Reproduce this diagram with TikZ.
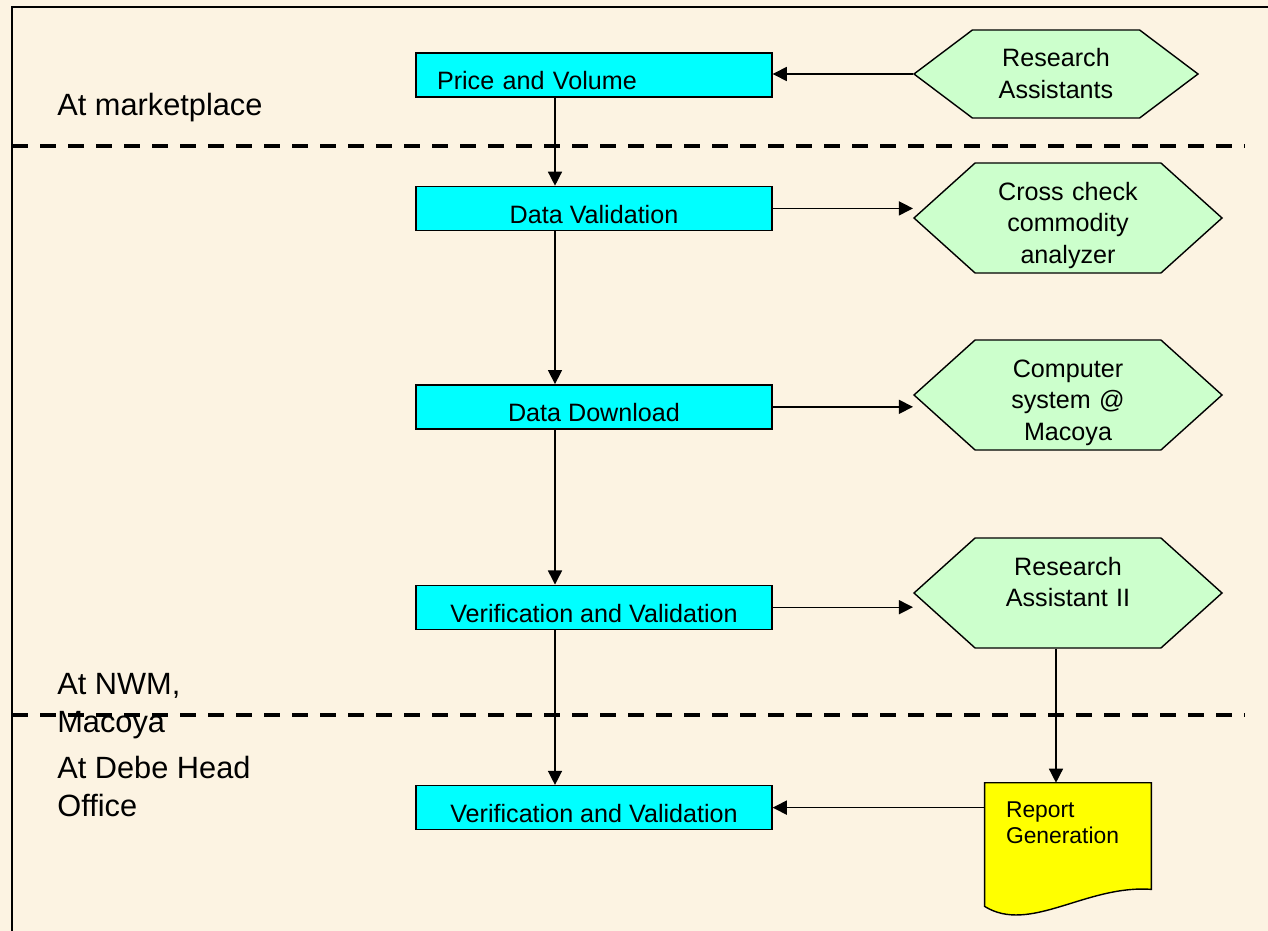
\documentclass[tikz,border=0pt]{standalone}
\usepackage{fontspec}
\setmainfont{Liberation Sans}
\usepackage{xcolor}
\usetikzlibrary{arrows.meta,positioning,shapes.symbols,backgrounds}

\definecolor{paper}{RGB}{252,243,226}
\definecolor{boxcyan}{RGB}{0,255,255}
\definecolor{hexgreen}{RGB}{204,255,204}
\definecolor{docyellow}{RGB}{255,255,0}

\begin{document}
\begin{tikzpicture}[
    procbox/.style={draw, line width=0.8pt, fill=boxcyan, minimum width=7.12cm,
        minimum height=0.88cm, inner ysep=2pt, text height=17pt, text depth=0pt,
        font=\fontsize{14.3}{17}\selectfont},
    hexbox/.style={shape=signal, signal to=east and west, draw, line width=0.8pt,
        fill=hexgreen, text width=3.5cm, align=center, minimum width=6.16cm,
        minimum height=2.2cm, signal pointer angle=84, inner sep=1pt,
        text height=10.5pt, text depth=30.9pt, font=\fontsize{14.3}{18.1}\selectfont},
    docbox/.style={minimum width=3.32cm, minimum height=2.12cm, inner xsep=0.42cm,
        text width=2.48cm, align=left, text height=9.5pt, text depth=31.1pt,
        font=\fontsize{13}{15.3}\selectfont},
    zone/.style={anchor=base west, align=left, inner sep=0pt,
        font=\fontsize{17.5}{21.5}\selectfont},
    flow/.style={-{Triangle[length=8pt,width=8pt]}, line width=0.8pt},
    split/.style={line width=2.2pt, dash pattern=on 0.32cm off 0.24cm},
]
    \useasboundingbox (0,0) rectangle (25.36,-18.62);

    \node[procbox, text width=6.28cm, align=left, inner xsep=0.42cm] (price) at (11.88,-1.50)
        {Price and Volume};
    \node[procbox, below=1.76cm of price] (dataval) {Data Validation};
    \node[procbox, below=3.06cm of dataval] (download) {Data Download};
    \node[procbox, below=3.10cm of download] (verifA) {Verification and Validation};
    \node[procbox, below=3.10cm of verifA] (verifB) {Verification and Validation};

    \node[hexbox, minimum width=5.68cm, minimum height=1.76cm, signal pointer angle=74,
        text width=3.2cm, text depth=18.5pt] (assist) at (21.12,-1.48) {Research\\Assistants};
    \node[hexbox] (crosscheck) at (21.36,-4.36) {Cross check\\commodity\\analyzer};
    \node[hexbox] (computer) at (21.36,-7.90) {Computer\\system @\\Macoya};
    \node[hexbox] (assistII) at (21.36,-11.86) {Research\\Assistant II};
    \node[docbox, below=2.68cm of assistII] (report) {Report\\Generation};

    \node[zone] (market) at (1.14,-2.32) {At marketplace};
    \node[zone] (nwm) at (1.14,-14.64) {At NWM,\\Macoya};
    \node[zone] (debe) at (1.14,-16.32) {At Debe Head\\Office};

    \begin{scope}[on background layer]
        \fill[paper] (0,0) rectangle (25.36,-18.62);
        \draw[line width=0.8pt, fill=docyellow] (report.north west) -- (report.north east)
            -- (report.south east)
            .. controls ([xshift=-1.3cm,yshift=0.1cm]report.south east)
            and ([xshift=0.9cm,yshift=-0.9cm]report.south west)
            .. ([yshift=-0.34cm]report.south west) -- cycle;
    \end{scope}

    \draw[line width=1pt] (0.24,-18.62) -- (0.24,-0.14) -- (25.36,-0.14);
    \draw[split] (0.24,-2.92) -- (24.9,-2.92);
    \draw[split] (0.24,-14.30) -- (24.9,-14.30);

    \draw[flow] (assist.west) -- (assist.west -| price.east);
    \draw[flow] ([xshift=-0.78cm]price.south) -- ([xshift=-0.78cm]dataval.north);
    \draw[flow] ([xshift=-0.78cm]dataval.south) -- ([xshift=-0.78cm]download.north);
    \draw[flow] ([xshift=-0.78cm]download.south) -- ([xshift=-0.78cm]verifA.north);
    \draw[flow] ([xshift=-0.78cm]verifA.south) -- ([xshift=-0.78cm]verifB.north);
    \draw[flow] (dataval.east) -- (dataval.east -| crosscheck.west);
    \draw[flow] (download.east) -- (download.east -| computer.west);
    \draw[flow] (verifA.east) -- (verifA.east -| assistII.west);
    \draw[flow] ([xshift=-0.24cm]assistII.south) -- ([xshift=-0.24cm]report.north);
    \draw[flow] (verifB.east -| report.west) -- (verifB.east);
\end{tikzpicture}
\end{document}
